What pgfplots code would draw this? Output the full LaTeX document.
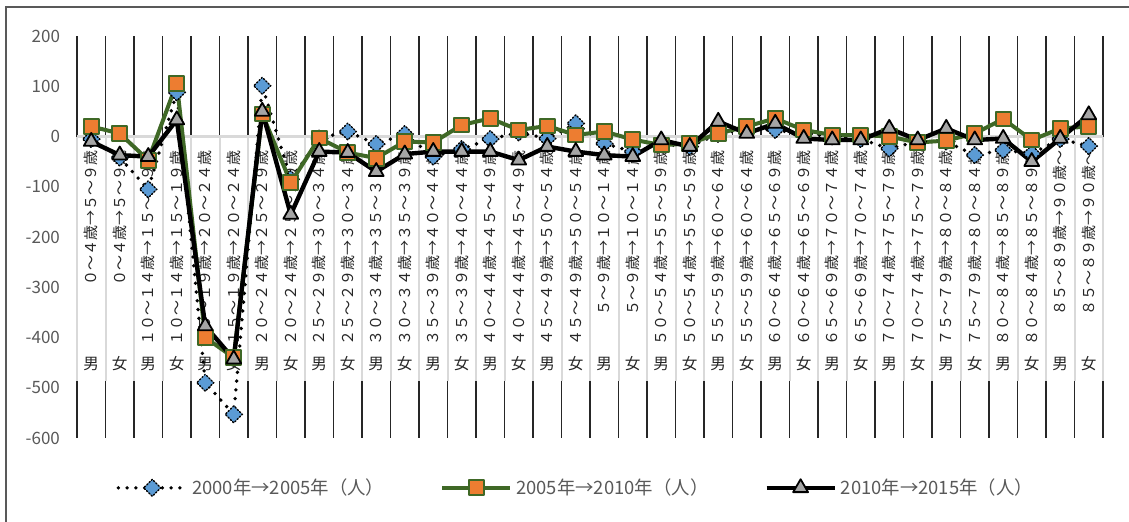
\documentclass[border=0pt]{standalone}
\usepackage{fontspec}
\setmainfont{Noto Sans CJK JP}
\usepackage{pgfplots}
\usepackage{pgfplotstable}
\pgfplotsset{compat=1.18}

\definecolor{tickgray}{HTML}{595959}
\definecolor{bandgray}{HTML}{D9D9D9}
\definecolor{dotblue}{HTML}{5B9BD5}
\definecolor{sqorange}{HTML}{ED7D31}
\definecolor{darkgreen}{HTML}{3F6826}
\definecolor{trigray}{HTML}{A5A5A5}

% net migration by cohort (persons): a = 2000->2005, b = 2005->2010, c = 2010->2015
\pgfplotstableread{
x   a     b     c
0   -5    20    -10
1   -42   6     -37
2   -105  -47   -40
3   88    106   33
4   -490  -400  -377
5   -553  -440  -443
6   101   45    50
7   -85   -92   -155
8   -4    -3    -30
9   10    -32   -32
10  -15   -43   -70
11  5     -10   -35
12  -40   -12   -30
13  -25   23    -30
14  -5    36    -30
15  8     13    -47
16  -4    21    -20
17  26    3     -30
18  -14   10    -37
19  -30   -6    -40
20  -15   -17   -7
21  -20   -14   -20
22  5     6     30
23  15    20    6
24  13    36    26
25  5     13    -4
26  0     3     -7
27  -5    3     -7
28  -24   0     16
29  -10   -12   -7
30  -10   -8    16
31  -37   6     -7
32  -27   35    -4
33  -34   -7    -50
34  -5    16    -4
35  -19   20    43
}\migration

% category label: rotated cohort text under the zero line, sex in the lower row
\newcommand\cat[3]{%
  \node[rotate=90, anchor=east, inner sep=0pt, text=black!85,
        font=\fontsize{7.5}{8}\selectfont] at (axis cs:#1,-28) {#2};
  \node[inner sep=0pt, text=black!85, font=\fontsize{7.8}{8}\selectfont]
        at (axis cs:#1,-452) {#3};
}

\begin{document}
\begin{tikzpicture}
\useasboundingbox (0,0) rectangle (564.5pt,260.5pt);
\draw[tickgray, line width=0.8pt] (3pt,-2pt) -- (3pt,257pt) -- (570pt,257pt);
\begin{axis}[
  at={(38.5pt,41.5pt)}, anchor=south west,
  scale only axis, width=513pt, height=201pt,
  xmin=-0.5, xmax=35.5, ymin=-600, ymax=200,
  xtick=\empty,
  ytick={-600,-500,-400,-300,-200,-100,0,100,200},
  yticklabels={-600,-500,-400,-300,-200,-100,0,100,200},
  axis line style={draw=none},
  major tick length=0pt,
  yticklabel style={font=\fontsize{8.5}{10}\selectfont, text=tickgray, xshift=-5pt},
  clip=false,
  legend columns=3,
  legend cell align=left,
  legend style={at={(0.487,-0.124)}, anchor=center, draw=none, fill=none,
    font=\fontsize{9.2}{11}\selectfont, text=tickgray,
    /tikz/every even column/.append style={column sep=26pt}},
  legend image code/.code={%
    \draw[mark repeat=2, mark phase=2, #1]
      plot coordinates {(0pt,0pt) (17pt,0pt) (34pt,0pt)};},
]
% category separators: dark above the axis and below the label band, light inside it
\pgfplotsinvokeforeach{-0.5,0.5,...,35.5}{
  \draw[black!85, line width=0.7pt] (axis cs:#1,200) -- (axis cs:#1,0);
  \draw[black!85, line width=0.7pt] (axis cs:#1,-486) -- (axis cs:#1,-600);
  \draw[bandgray, line width=1pt] (axis cs:#1,0) -- (axis cs:#1,-486);
}
\draw[bandgray, line width=1.2pt] (axis cs:-0.5,0) -- (axis cs:35.5,0);

\cat{0}{０～４歳→５～９歳}{男}
\cat{1}{０～４歳→５～９歳}{女}
\cat{2}{１０～１４歳→１５～１９歳}{男}
\cat{3}{１０～１４歳→１５～１９歳}{女}
\cat{4}{１５～１９歳→２０～２４歳}{男}
\cat{5}{１５～１９歳→２０～２４歳}{女}
\cat{6}{２０～２４歳→２５～２９歳}{男}
\cat{7}{２０～２４歳→２５～２９歳}{女}
\cat{8}{２５～２９歳→３０～３４歳}{男}
\cat{9}{２５～２９歳→３０～３４歳}{女}
\cat{10}{３０～３４歳→３５～３９歳}{男}
\cat{11}{３０～３４歳→３５～３９歳}{女}
\cat{12}{３５～３９歳→４０～４４歳}{男}
\cat{13}{３５～３９歳→４０～４４歳}{女}
\cat{14}{４０～４４歳→４５～４９歳}{男}
\cat{15}{４０～４４歳→４５～４９歳}{女}
\cat{16}{４５～４９歳→５０～５４歳}{男}
\cat{17}{４５～４９歳→５０～５４歳}{女}
\cat{18}{５～９歳→１０～１４歳}{男}
\cat{19}{５～９歳→１０～１４歳}{女}
\cat{20}{５０～５４歳→５５～５９歳}{男}
\cat{21}{５０～５４歳→５５～５９歳}{女}
\cat{22}{５５～５９歳→６０～６４歳}{男}
\cat{23}{５５～５９歳→６０～６４歳}{女}
\cat{24}{６０～６４歳→６５～６９歳}{男}
\cat{25}{６０～６４歳→６５～６９歳}{女}
\cat{26}{６５～６９歳→７０～７４歳}{男}
\cat{27}{６５～６９歳→７０～７４歳}{女}
\cat{28}{７０～７４歳→７５～７９歳}{男}
\cat{29}{７０～７４歳→７５～７９歳}{女}
\cat{30}{７５～７９歳→８０～８４歳}{男}
\cat{31}{７５～７９歳→８０～８４歳}{女}
\cat{32}{８０～８４歳→８５～８９歳}{男}
\cat{33}{８０～８４歳→８５～８９歳}{女}
\cat{34}{８５～８９歳→９０歳～}{男}
\cat{35}{８５～８９歳→９０歳～}{女}

\addplot[black, line width=1.9pt, line cap=round, dash pattern=on 0pt off 4.4pt,
  mark=square*, mark size=3pt,
  mark options={rotate=45, fill=dotblue, draw=black, line width=0.7pt,
                dash pattern=on 0.7pt off 0.9pt}]
  table[x=x, y=a] {\migration};
\addlegendentry{2000年→2005年（人）}

\addplot[darkgreen, line width=2pt, line join=round,
  mark=square*, mark size=3.7pt,
  mark options={solid, fill=sqorange, draw=darkgreen, line width=1pt}]
  table[x=x, y=b] {\migration};
\addlegendentry{2005年→2010年（人）}

\addplot[black, line width=2.2pt, line join=round,
  mark=triangle*, mark size=4.3pt,
  mark options={solid, fill=trigray, draw=black, line width=0.9pt}]
  table[x=x, y=c] {\migration};
\addlegendentry{2010年→2015年（人）}
\end{axis}
\end{tikzpicture}
\end{document}
